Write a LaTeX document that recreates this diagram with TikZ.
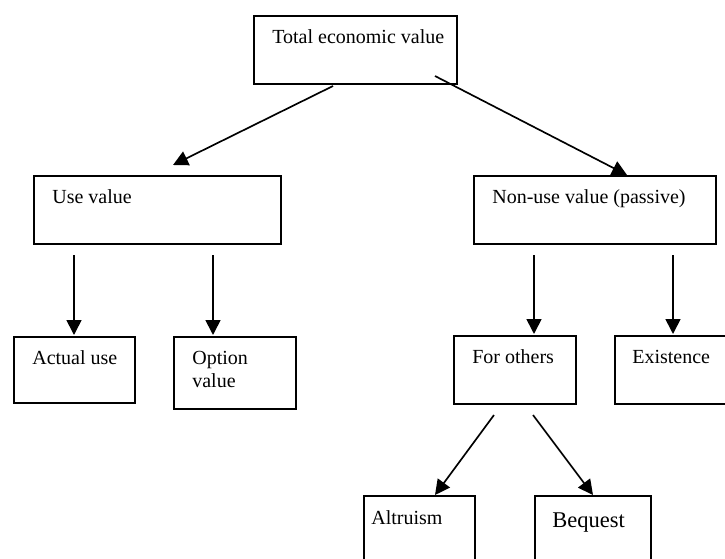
\documentclass[tikz,border=0pt]{standalone}
\usepackage{fontspec}
\setmainfont{Liberation Serif}
\usetikzlibrary{arrows.meta}
\tikzset{
	box/.style={draw, line width=0.9pt, inner sep=0pt, anchor=north west},
	lbl/.style={anchor=base west, inner sep=0pt, align=left,
			font=\fontsize{12}{13.8}\selectfont},
	link/.style={line width=1pt, -{Triangle[length=9pt,width=9pt]}}
}

\begin{document}
\begin{tikzpicture}[x=0.6pt, y=-0.6pt]
        \clip (0,0) rectangle (725,559);
        % boxes
        \node[box, minimum width=121.8pt, minimum height=40.8pt] (tev) at (253,15) {};
        \node[box, minimum width=148.2pt, minimum height=40.8pt] (use) at (33,175) {};
        \node[box, minimum width=145.2pt, minimum height=40.8pt] (nonuse) at (473,175) {};
        \node[box, minimum width=72.6pt, minimum height=39.6pt] (actual) at (13,336) {};
        \node[box, minimum width=73.2pt, minimum height=43.2pt] (option) at (173,336) {};
        \node[box, minimum width=73.2pt, minimum height=40.8pt] (others) at (453,335) {};
        \node[box, minimum width=75.6pt, minimum height=40.8pt] (exist) at (614,335) {};
        \node[box, minimum width=66.6pt, minimum height=48pt] (altru) at (363,495) {};
        \node[box, minimum width=69.6pt, minimum height=48pt] (bequest) at (534,495) {};
        % texts
        \node[lbl] (tev_txt) at (272,43) {Total economic value};
        \node[lbl] (use_txt) at (52,203) {Use value};
        \node[lbl] (nonuse_txt) at (492,203) {Non-use value (passive)};
        \node[lbl] (actual_txt) at (32,364) {Actual use};
        \node[lbl] (option_txt) at (192,387) {Option\\value};
        \node[lbl] (others_txt) at (472,363) {For others};
        \node[lbl] (exist_txt) at (632,363) {Existence};
        \node[lbl] (altru_txt) at (371,524) {Altruism};
        \node[lbl, font=\fontsize{13.5}{16}\selectfont] (bequest_txt) at (552,527) {Bequest};
        % arrow ends
        \coordinate (tev_L) at (333,86);
        \coordinate (tev_R) at (435,76);
        \coordinate (use_T) at (173,165);
        \coordinate (nonuse_T) at (627,175);
        \coordinate (use_L) at (74,255);
        \coordinate (use_R) at (213,255);
        \coordinate (actual_T) at (74,335);
        \coordinate (option_T) at (213,335);
        \coordinate (nonuse_L) at (534,255);
        \coordinate (nonuse_R) at (673,255);
        \coordinate (others_T) at (534,334);
        \coordinate (exist_T) at (673,334);
        \coordinate (others_L) at (494,415);
        \coordinate (others_R) at (533,415);
        \coordinate (altru_T) at (435,495);
        \coordinate (bequest_T) at (593,495);
        % arrows
        \draw[link] (tev_L) -- (use_T);
        \draw[link] (tev_R) -- (nonuse_T);
        \draw[link] (use_L) -- (actual_T);
        \draw[link] (use_R) -- (option_T);
        \draw[link] (nonuse_L) -- (others_T);
        \draw[link] (nonuse_R) -- (exist_T);
        \draw[link] (others_L) -- (altru_T);
        \draw[link] (others_R) -- (bequest_T);
\end{tikzpicture}
\end{document}
